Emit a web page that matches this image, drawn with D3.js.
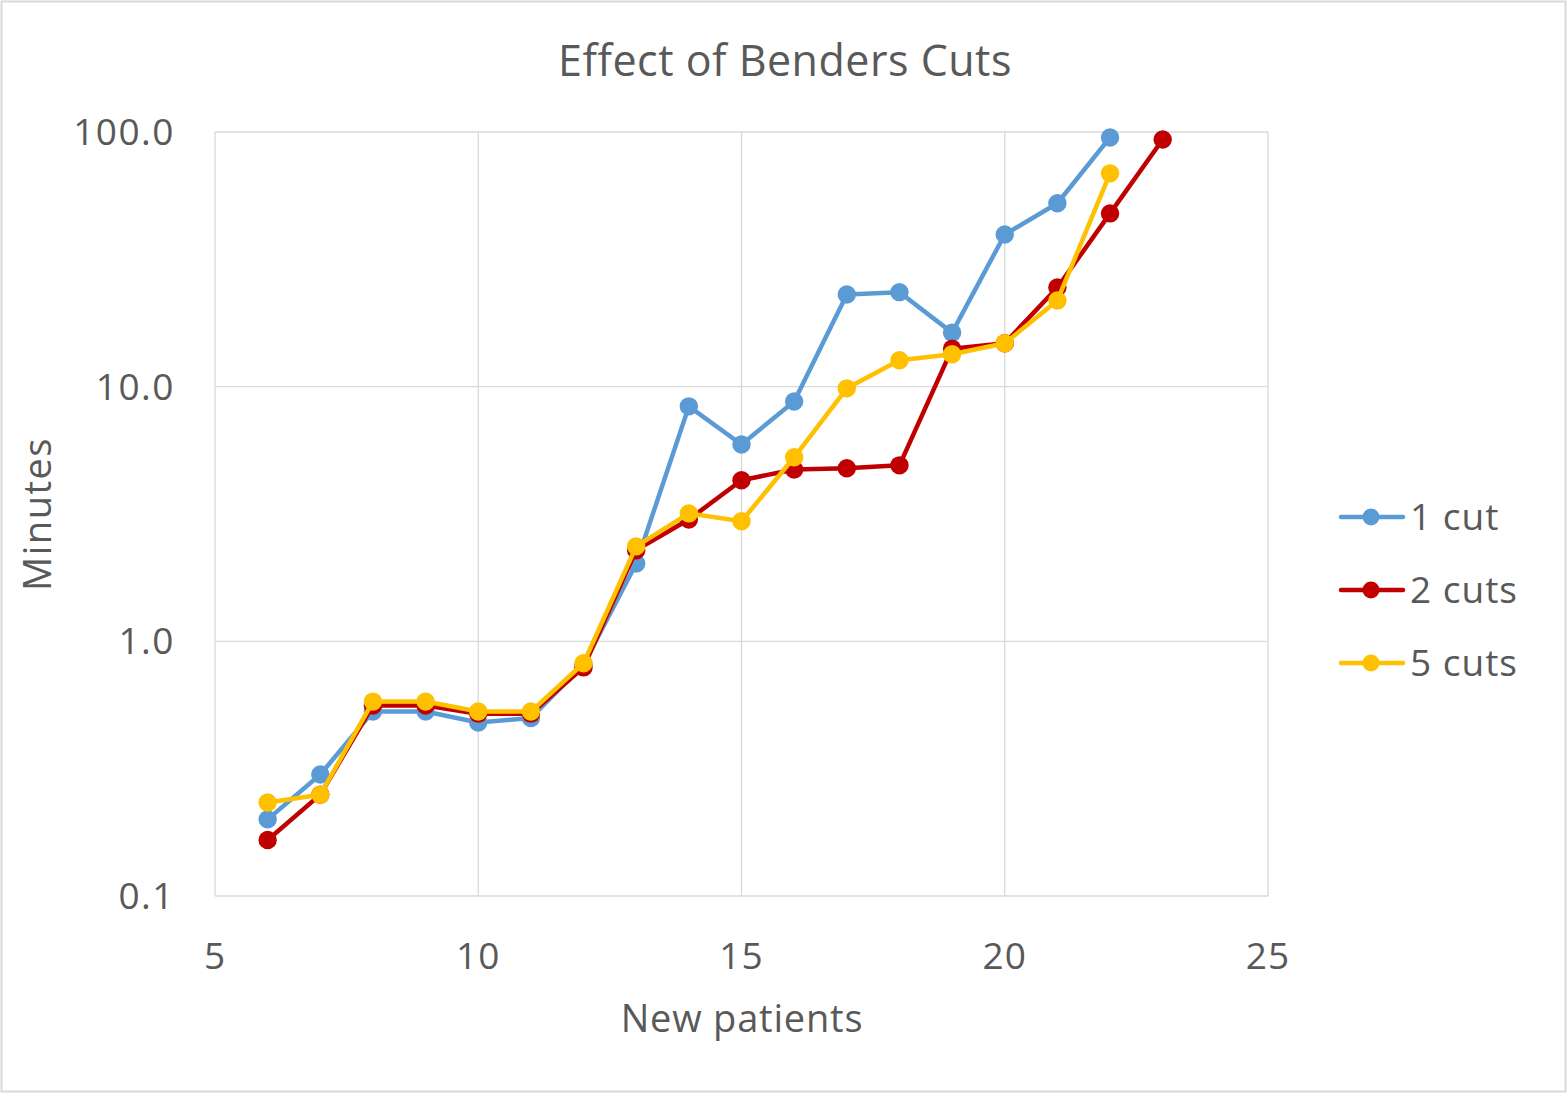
<!DOCTYPE html>
<html><head><meta charset="utf-8">
<script src="https://cdn.jsdelivr.net/npm/d3@7"></script>
<style>body{margin:0;background:#fff;} text{font-family:"Open Sans","Segoe UI",sans-serif;fill:#595959;}</style>
</head><body><svg id="c" width="1567" height="1093"></svg>
<script>
const xs1 = [6,7,8,9,10,11,12,13,14,15,16,17,18,19,20,21,22];
const cut1 = [0.20,0.30,0.53,0.53,0.48,0.50,0.81,2.02,8.37,5.93,8.75,23.0,23.5,16.3,39.6,52.5,95.2];
const xs2 = [6,7,8,9,10,11,12,13,14,15,16,17,18,19,20,21,22,23];
const cut2 = [0.166,0.25,0.56,0.56,0.52,0.52,0.79,2.28,3.01,4.29,4.73,4.78,4.91,14.1,14.8,24.5,47.9,93.5];
const xs5 = [6,7,8,9,10,11,12,13,14,15,16,17,18,19,20,21,22];
const cut5 = [0.233,0.25,0.58,0.58,0.53,0.53,0.82,2.36,3.18,2.96,5.28,9.85,12.7,13.4,14.8,21.8,68.8];
const xTicks = [5,10,15,20,25];
const yTicks = [0.1,1,10,100];
const seriesNames = ["1 cut","2 cuts","5 cuts"];
const colors = ["#5B9BD5","#C00000","#FFC000"];

const svg = d3.select("#c");
svg.append("rect").attr("x",1.5).attr("y",1.5).attr("width",1564).attr("height",1090)
  .attr("fill","#fff").attr("stroke","#d9d9d9").attr("stroke-width",2);

const x = d3.scaleLinear().domain([5,25]).range([215,1268]);
const y = d3.scaleLog().domain([0.1,100]).range([896,132]);

const g = svg.append("g");
xTicks.forEach(t=>{
  g.append("line").attr("x1",x(t)).attr("x2",x(t)).attr("y1",y(100)).attr("y2",y(0.1))
   .attr("stroke","#d9d9d9").attr("stroke-width",1.3);
  g.append("text").attr("x",x(t)).attr("y",969).attr("text-anchor","middle")
   .attr("font-size",37).attr("letter-spacing",1).text(t);
});
yTicks.forEach(t=>{
  g.append("line").attr("x1",x(5)).attr("x2",x(25)).attr("y1",y(t)).attr("y2",y(t))
   .attr("stroke","#d9d9d9").attr("stroke-width",1.3);
  g.append("text").attr("x",175).attr("y",y(t)+13).attr("text-anchor","end")
   .attr("font-size",37).attr("letter-spacing",1.5).text(d3.format(".1f")(t));
});

svg.append("text").attr("x",785).attr("y",76).attr("text-anchor","middle")
  .attr("font-size",43).attr("letter-spacing",0.5).text("Effect of Benders Cuts");
svg.append("text").attr("x",742).attr("y",1032).attr("text-anchor","middle")
  .attr("font-size",38).attr("letter-spacing",0.8).text("New patients");
svg.append("text").attr("transform","translate(51,514) rotate(-90)").attr("text-anchor","middle")
  .attr("font-size",38).attr("letter-spacing",1.5).text("Minutes");

const data = [xs1.map((d,i)=>[d,cut1[i]]), xs2.map((d,i)=>[d,cut2[i]]), xs5.map((d,i)=>[d,cut5[i]])];
const line = d3.line().x(d=>x(d[0])).y(d=>y(d[1]));
data.forEach((s,k)=>{
  const sg = svg.append("g");
  sg.append("path").attr("d",line(s)).attr("fill","none").attr("stroke",colors[k])
    .attr("stroke-width",4.5).attr("stroke-linejoin","round").attr("stroke-linecap","round");
  sg.selectAll("circle").data(s).join("circle").attr("cx",d=>x(d[0])).attr("cy",d=>y(d[1]))
    .attr("r",9.2).attr("fill",colors[k]);
});

const legY = [517,590,663];
seriesNames.forEach((n,k)=>{
  const lg = svg.append("g");
  lg.append("line").attr("x1",1341).attr("x2",1403).attr("y1",legY[k]).attr("y2",legY[k])
    .attr("stroke",colors[k]).attr("stroke-width",4.5).attr("stroke-linecap","round");
  lg.append("circle").attr("cx",1371).attr("cy",legY[k]).attr("r",8.5).attr("fill",colors[k]);
  lg.append("text").attr("x",1410).attr("y",legY[k]+13).attr("font-size",37).attr("letter-spacing",1).text(n);
});
</script></body></html>
